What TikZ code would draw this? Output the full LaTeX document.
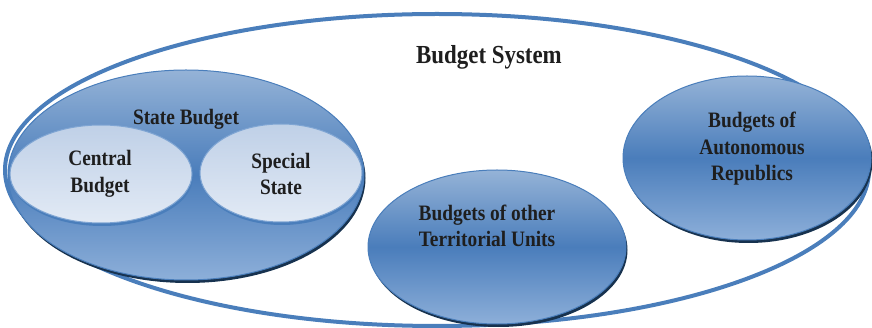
\documentclass[tikz,border=0pt]{standalone}
\usepackage{fontspec}
\setmainfont{Liberation Serif}[FakeStretch=0.88]
\usetikzlibrary{shapes.geometric,shadows}
\definecolor{rim}{HTML}{4A7EBB}
\definecolor{blueTop}{HTML}{95B3D7}
\definecolor{blueMid}{HTML}{4A7DBB}
\definecolor{blueBot}{HTML}{8DAFD9}
\definecolor{shadeblue}{HTML}{17324F}
\definecolor{paleTop}{HTML}{BFD0E7}
\definecolor{paleBot}{HTML}{E2EAF5}
\definecolor{paleRim}{HTML}{7FA5D3}
\definecolor{txt}{HTML}{1E1E1E}
\tikzset{
  bigdisc/.style={ellipse, draw=rim, line width=1pt, top color=blueTop, bottom color=blueBot, middle color=blueMid,
    drop shadow={shadow xshift=1.5pt, shadow yshift=-3pt, fill=shadeblue, opacity=1}, inner sep=0pt},
  smalldisc/.style={ellipse, draw=paleRim, line width=1pt, top color=paleTop, bottom color=paleBot,
    drop shadow={shadow xshift=1pt, shadow yshift=-3pt, fill=rim, opacity=1}, inner sep=0pt},
  lbl/.style={font=\fontsize{22}{26.5}\selectfont\bfseries, text=txt, align=center, inner sep=0pt},
}
\begin{document}
\begin{tikzpicture}[x=1pt,y=-1pt]
\useasboundingbox (0,0) rectangle (872,328);
\node[ellipse, draw=rim, line width=4pt, minimum width=864pt, minimum height=312pt, inner sep=0pt] (system) at (437,170) {};
\node[bigdisc, minimum width=356pt, minimum height=210pt] (state) at (186,175) {};
\node[smalldisc, minimum width=182pt, minimum height=98pt] (central) at (101,174) {};
\node[smalldisc, minimum width=162pt, minimum height=98pt] (special) at (281,173) {};
\node[bigdisc, minimum width=258pt, minimum height=154pt] (terr) at (497,247) {};
\node[bigdisc, minimum width=248pt, minimum height=164pt] (auto) at (747,158) {};
\node[lbl, font=\fontsize{26}{30}\selectfont\bfseries, anchor=base] (tsystem) at (489,64) {Budget System};
\node[lbl, anchor=base] (tstate) at (186,125) {State Budget};
\node[lbl] (tcentral) at (100,174) {Central\\Budget};
\node[lbl] (tspecial) at (281,174) {Special\\State};
\node[lbl] (tterr) at (487,226) {Budgets of other\\Territorial Units};
\node[lbl] (tauto) at (752,149) {Budgets of\\Autonomous\\Republics};
\end{tikzpicture}
\end{document}
